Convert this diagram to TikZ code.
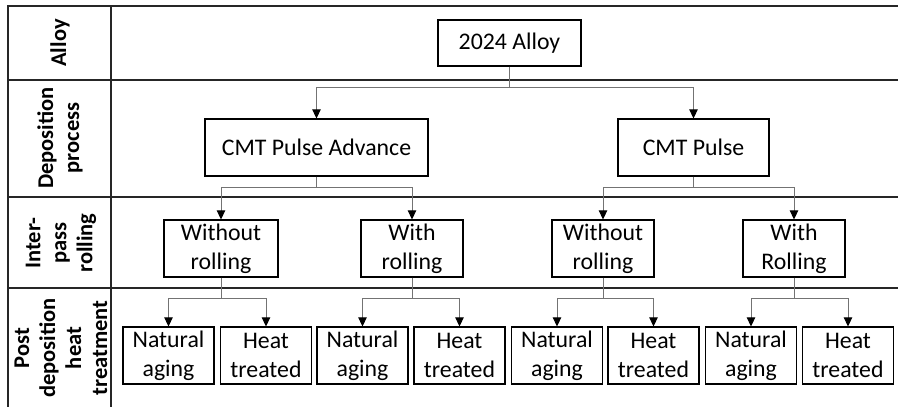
\documentclass[tikz,border=0pt]{standalone}
\usepackage{fontspec}
\setmainfont{Carlito}
\usetikzlibrary{arrows.meta}
\begin{document}
\begin{tikzpicture}[x=1pt,y=-1pt,
  tbl/.style={line width=1.3pt,draw=black!85},
  box/.style={draw=black,line width=1.2pt,inner sep=0pt,align=center,
    font=\fontsize{23.8}{29}\selectfont},
  lbl/.style={rotate=90,align=center,font=\fontsize{22.5}{26}\selectfont\bfseries},
  conn/.style={draw=black!55,line width=0.9pt},
  arr/.style={conn,-{Triangle[width=8.5pt,length=9pt,color=black,fill=black]}}
]
\useasboundingbox (0,0) rectangle (898,407);
% table
\draw[tbl] (8,407) -- (8,6) -- (898,6);
\draw[tbl] (111,6) -- (111,407);
\draw[tbl] (8,80) -- (898,80);
\draw[tbl] (8,197) -- (898,197);
\draw[tbl] (8,288) -- (898,288);
% row labels
\node[lbl] (l1) at (60,43) {Alloy};
\node[lbl] (l2) at (60,138) {Deposition\\process};
\node[lbl] (l3) at (61,243) {Inter-\\pass\\rolling};
\node[lbl] (l4) at (61,348) {Post\\deposition\\heat\\treatment};
% level 1
\node[box,minimum width=143pt,minimum height=46pt] (alloy) at (509.5,43) {2024 Alloy};
% level 2
\node[box,minimum width=223pt,minimum height=57pt] (cpa) at (316.5,147.5) {CMT Pulse Advance};
\node[box,minimum width=151pt,minimum height=57pt] (cp) at (693.5,147.5) {CMT Pulse};
% level 3
\node[box,minimum width=114pt,minimum height=57pt] (wo1) at (221,248.5) {Without\\rolling};
\node[box,minimum width=102pt,minimum height=57pt] (w1) at (412,248.5) {With\\rolling};
\node[box,minimum width=102pt,minimum height=57pt] (wo2) at (603,248.5) {Without\\rolling};
\node[box,minimum width=102pt,minimum height=57pt] (w2) at (794,248.5) {With\\Rolling};
% level 4
\tikzset{leaf/.style={box,minimum width=91pt,minimum height=57pt}}
\node[leaf] (na1) at (168.5,355.5) {Natural\\aging};
\node[leaf] (ht1) at (266,355.5) {Heat\\treated};
\node[leaf] (na2) at (362.5,355.5) {Natural\\aging};
\node[leaf] (ht2) at (459.5,355.5) {Heat\\treated};
\node[leaf] (na3) at (557,355.5) {Natural\\aging};
\node[leaf] (ht3) at (653.5,355.5) {Heat\\treated};
\node[leaf] (na4) at (751,355.5) {Natural\\aging};
\node[leaf] (ht4) at (848,355.5) {Heat\\treated};
% connectors
\draw[arr] (alloy.south) -- ++(0,21) -| (cpa.north);
\draw[arr] (alloy.south) -- ++(0,21) -| (cp.north);
\draw[arr] (cpa.south) -- ++(0,11) -| (wo1.north);
\draw[arr] (cpa.south) -- ++(0,11) -| (w1.north);
\draw[arr] (cp.south) -- ++(0,11) -| (wo2.north);
\draw[arr] (cp.south) -- ++(0,11) -| (w2.north);
\draw[arr] (wo1.south) -- ++(0,21) -| (na1.north);
\draw[arr] (wo1.south) -- ++(0,21) -| (ht1.north);
\draw[arr] (w1.south) -- ++(0,21) -| (na2.north);
\draw[arr] (w1.south) -- ++(0,21) -| (ht2.north);
\draw[arr] (wo2.south) -- ++(0,21) -| (na3.north);
\draw[arr] (wo2.south) -- ++(0,21) -| (ht3.north);
\draw[arr] (w2.south) -- ++(0,21) -| (na4.north);
\draw[arr] (w2.south) -- ++(0,21) -| (ht4.north);
\end{tikzpicture}
\end{document}
